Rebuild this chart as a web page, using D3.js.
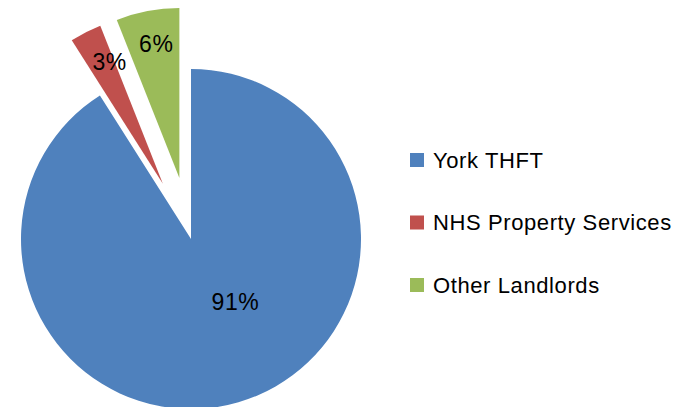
<!DOCTYPE html>
<html>
<head>
<meta charset="utf-8">
<script src="https://cdn.jsdelivr.net/npm/d3@7"></script>
<style>
  body { margin: 0; background: #fff; }
  svg text { font-family: "Liberation Sans", Arial, sans-serif; fill: #000; }
</style>
</head>
<body>
<div id="chart"></div>
<script>
// data
var landlords = ["York THFT", "NHS Property Services", "Other Landlords"];
var shares = [91, 3, 6];
var shareLabels = ["91%", "3%", "6%"];
var colours = ["#4F81BD", "#C0504D", "#9BBB59"];

var width = 688, height = 407;
var cx = 191, cy = 239, radius = 170;
var explode = [0, 62, 62];           // how far each slice is pulled out
// label placement (radius from slice tip, angle nudge in degrees)
var labelR = [77, 133, 136],
    labelNudge = [-19, 3.4, 1];

var svg = d3.select("#chart").append("svg")
    .attr("width", width)
    .attr("height", height);

var pie = d3.pie().sort(null).value(function (d) { return d; });
var arcs = pie(shares);

var arc = d3.arc().innerRadius(0).outerRadius(radius);

var g = svg.append("g").attr("transform", "translate(" + cx + "," + cy + ")");

var slice = g.selectAll(".slice")
    .data(arcs)
    .enter().append("g")
    .attr("class", "slice")
    .attr("transform", function (d, i) {
        var mid = (d.startAngle + d.endAngle) / 2;
        return "translate(" + (explode[i] * Math.sin(mid)) + "," + (-explode[i] * Math.cos(mid)) + ")";
    });

slice.append("path")
    .attr("d", arc)
    .attr("fill", function (d, i) { return colours[i]; });

slice.append("text")
    .attr("text-anchor", "middle")
    .attr("dy", "0.35em")
    .style("font-size", "23px")
    .style("letter-spacing", "0.5px")
    .attr("x", function (d, i) {
        var a = (d.startAngle + d.endAngle) / 2 + labelNudge[i] * Math.PI / 180;
        return labelR[i] * Math.sin(a);
    })
    .attr("y", function (d, i) {
        var a = (d.startAngle + d.endAngle) / 2 + labelNudge[i] * Math.PI / 180;
        return -labelR[i] * Math.cos(a);
    })
    .text(function (d, i) { return shareLabels[i]; });

// legend
var legendY = d3.scalePoint().domain(landlords).range([160, 285]);

var legend = svg.append("g").selectAll(".legend")
    .data(landlords)
    .enter().append("g")
    .attr("class", "legend")
    .attr("transform", function (d) { return "translate(410," + legendY(d) + ")"; });

legend.append("rect")
    .attr("x", 0)
    .attr("y", -7)
    .attr("width", 14)
    .attr("height", 14)
    .attr("fill", function (d, i) { return colours[i]; });

legend.append("text")
    .attr("x", 23)
    .attr("dy", "0.36em")
    .style("font-size", "22px")
    .style("letter-spacing", "0.6px")
    .text(function (d) { return d; });
</script>
</body>
</html>
